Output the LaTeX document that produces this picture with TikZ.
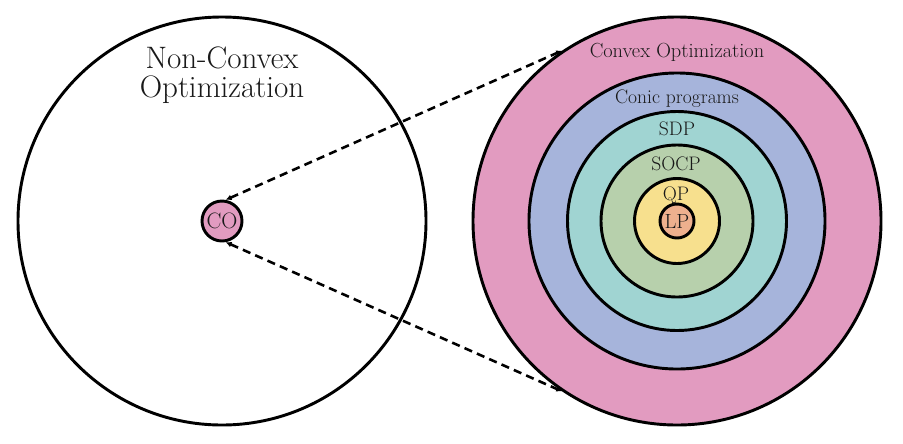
\documentclass[tikz,border=0pt]{standalone}
\usepackage{fontspec}
\usepackage{tikz}
\usetikzlibrary{arrows.meta,positioning}
\definecolor{cvxpink}{RGB}{226,155,192}
\definecolor{conicblue}{RGB}{166,180,219}
\definecolor{sdpteal}{RGB}{160,212,210}
\definecolor{socpgreen}{RGB}{183,208,172}
\definecolor{qpyellow}{RGB}{247,224,142}
\definecolor{lpsalmon}{RGB}{238,176,142}

\begin{document}
\begin{tikzpicture}[x=0.03cm,y=-0.03cm,
    ring/.style={circle,draw=black,line width=2.5pt,inner sep=0pt,minimum size=#1},
    lbl/.style={anchor=base,text=black!90,inner sep=0pt,font=\fontsize{16.7}{19}\selectfont},
    title/.style={anchor=base,text=black!90,inner sep=0pt,font=\fontsize{26.5}{30}\selectfont},
    link/.style={line width=2.2pt,dash pattern=on 7pt off 4.5pt,
      {Latex[length=5pt,width=5pt]}-{Latex[length=5pt,width=5pt]}}]
  \useasboundingbox (0,0) rectangle (903,443);
  % Non-convex side
  \node[ring=12.24cm] (ncvx) at (222,221) {};
  \node[ring=1.2cm,fill=cvxpink] (co) at (222,221) {};
  \node[lbl,font=\fontsize{19}{22}\selectfont] at (222,228) {CO};
  \node[title] (nctop) at (222,68) {Non-Convex};
  \node[title] (ncbot) at (222,97) {Optimization};
  % Convex side, nested classes
  \foreach \name/\d/\col in {cvx/12.24/cvxpink,conic/8.88/conicblue,
      sdp/6.57/sdpteal,socp/4.56/socpgreen,qp/2.55/qpyellow,lp/1.02/lpsalmon}{
    \node[ring=\d cm,fill=\col] (\name) at (677,221) {};
  }
  \node[lbl,font=\fontsize{17.4}{20}\selectfont] at (677,57) {Convex Optimization};
  \node[lbl] at (677,103) {Conic programs};
  \node[lbl] at (677,135) {SDP};
  \node[lbl] at (676,170) {SOCP};
  \node[lbl] at (676,200) {QP};
  \node[lbl,font=\fontsize{17.5}{20}\selectfont] at (677,228) {LP};
  % zoom lines
  \draw[link] (co.80) -- (cvx.124);
  \draw[link] (co.-80) -- (cvx.-124);
\end{tikzpicture}
\end{document}
